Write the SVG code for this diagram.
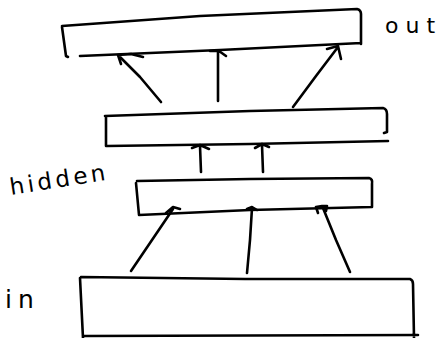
<svg xmlns="http://www.w3.org/2000/svg" width="448" height="338" viewBox="0 0 448 338">
<style>
.s{fill:none;stroke:#000;stroke-width:2.6;stroke-linecap:round;stroke-linejoin:round}
.t{font-family:"DejaVu Sans","Liberation Sans",sans-serif;fill:#000}
</style>
<rect width="448" height="338" fill="#fff"/>
<g id="out">
<path class="s" d="M62,27 L66,56 L68,57 M80,56 L220,50 L361,43 M62,26 L200,16 L357,9 Q361,10 361,14 L361,44"/>
<text class="t" x="385" y="33" font-size="22" letter-spacing="7">out</text>
</g>
<g id="hidden2">
<path class="s" d="M105,116 L250,111 L383,108 Q387,109 387,114 L387,132 L384,133 M106,116 L106,146 M107,146 L250,144 L388,141"/>
</g>
<g id="hidden1">
<path class="s" d="M137,181 L250,179 L369,178 Q373,179 372,184 L372,207 M136,183 L139,215 M139,215 L250,210 L372,207"/>
</g>
<g id="hidden-label">
<text class="t" x="11" y="195" font-size="23" letter-spacing="3.5" transform="rotate(-9 11 195)">hidden</text>
</g>
<g id="in">
<path class="s" d="M81,277 L245,279 L410,279 Q413,280 413,284 L414,338 M80,278 L83,338 M84,336 L418,335"/>
<text class="t" x="5" y="308" font-size="25" letter-spacing="6">in</text>
</g>
<g id="connectors">
<path class="s" d="M161,102 L140,77 L119,56 M121,64 L118,55 L131,54 L143,57"/>
<path class="s" d="M218,101 L218,52 M210,51 L219,51 L226,56"/>
<path class="s" d="M293,107 L316,76 L338,47 M327,49 L338,46 L341,59"/>
<path class="s" d="M201,172 L200,146 M192,148 L200,145 L209,149"/>
<path class="s" d="M263,172 L262,145 M255,148 L262,144 L269,147"/>
<path class="s" d="M131,271 L152,240 L173,209 M166,213 L173,207 L180,209"/>
<path class="s" d="M247,273 L250,240 L252,208 M247,209 L252,207 L257,210"/>
<path class="s" d="M350,272 L336,240 L323,208 M318,213 L316,207 L322,206 L327,206 L326,211"/>
</g>
</svg>
